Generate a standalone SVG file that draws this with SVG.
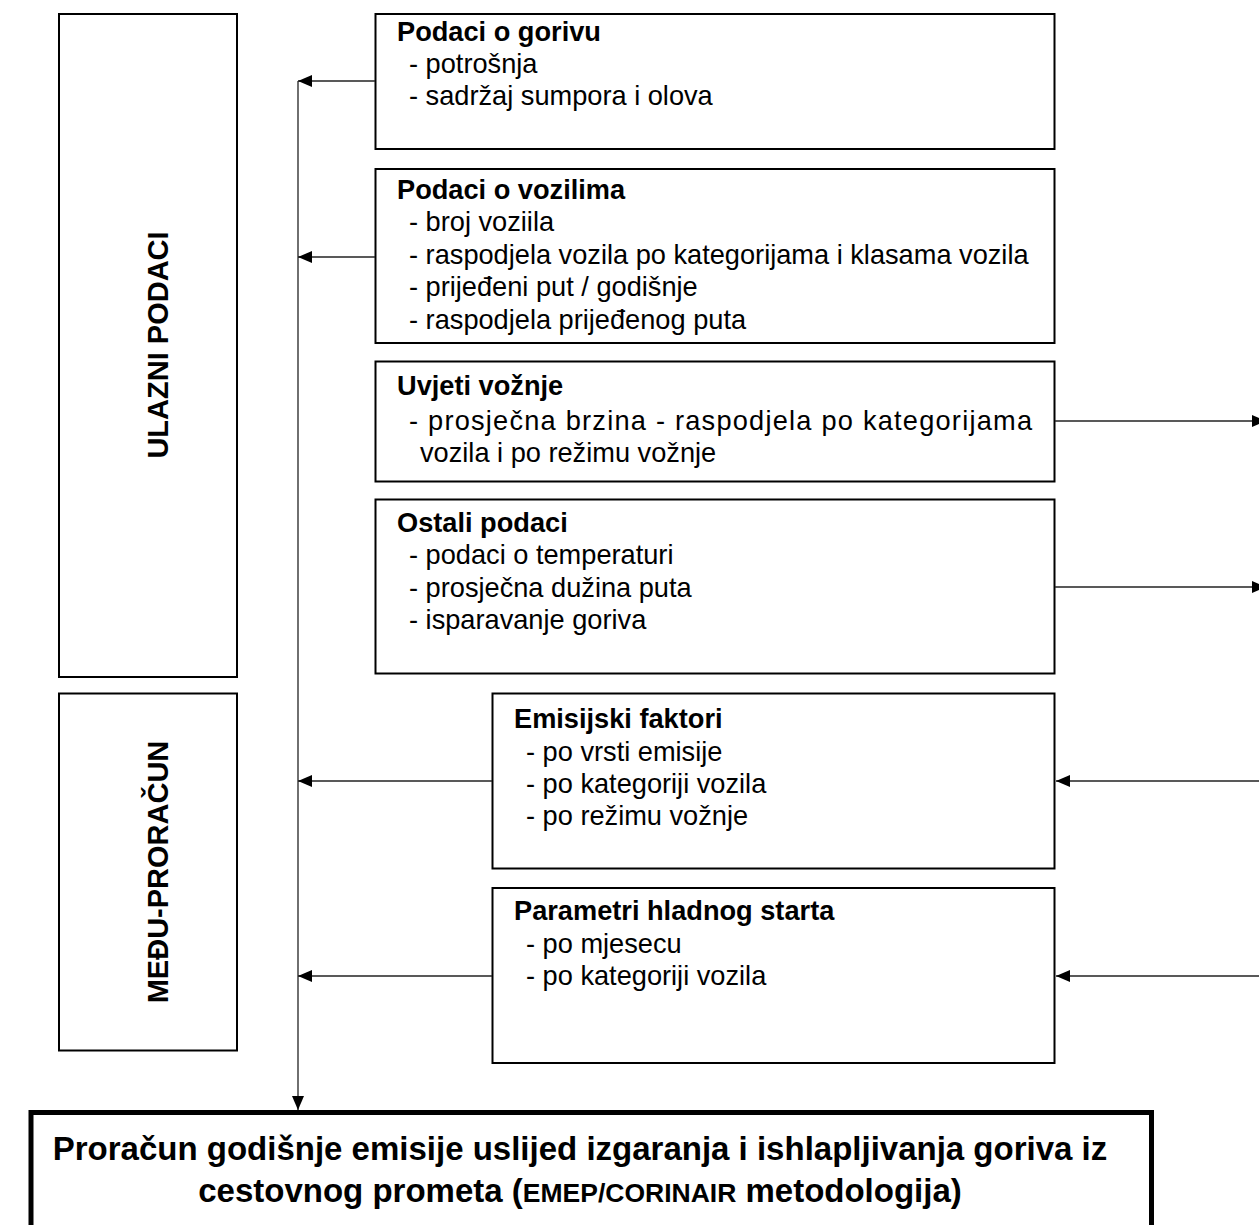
<svg xmlns="http://www.w3.org/2000/svg" width="1259" height="1225" viewBox="0 0 1259 1225">
<style>
.box{fill:#fff;stroke:#000;stroke-width:2}
.big{fill:#fff;stroke:#000;stroke-width:5}
.t{font-family:"Liberation Sans",Arial,sans-serif;font-size:27.2px;fill:#000}
.b{font-weight:bold}
.lbl{font-family:"Liberation Sans",Arial,sans-serif;font-size:29px;font-weight:bold;fill:#000;text-anchor:middle}
.main{font-family:"Liberation Sans",Arial,sans-serif;font-size:33px;font-weight:bold;fill:#000;text-anchor:middle}
.c{fill:none;stroke:#222;stroke-width:1.3}
</style>
<defs>
<marker id="arr" viewBox="0 0 14 12" refX="14" refY="6" markerWidth="14" markerHeight="12" orient="auto" markerUnits="userSpaceOnUse">
<path d="M0,0 L14,6 L0,12 z" fill="#000"/>
</marker>
</defs>

<g id="ulazni">
<rect class="box" x="59" y="14" width="178" height="663"/>
<text class="lbl" transform="translate(168,345) rotate(-90)">ULAZNI PODACI</text>
</g>
<g id="medju">
<rect class="box" x="59" y="693.5" width="178" height="357"/>
<text class="lbl" transform="translate(168,872) rotate(-90)">MEĐU-PRORAČUN</text>
</g>

<g id="gorivo">
<rect class="box" x="375.5" y="14" width="679" height="135"/>
<text class="t b" x="397" y="41">Podaci o gorivu</text>
<text class="t" x="409" y="73">- potrošnja</text>
<text class="t" x="409" y="105">- sadržaj sumpora i olova</text>
</g>

<g id="vozila">
<rect class="box" x="375.5" y="169" width="679" height="174"/>
<text class="t b" x="397" y="199">Podaci o vozilima</text>
<text class="t" x="409" y="231">- broj voziila</text>
<text class="t" x="409" y="263.5">- raspodjela vozila po kategorijama i klasama vozila</text>
<text class="t" x="409" y="296">- prijeđeni put / godišnje</text>
<text class="t" x="409" y="328.5">- raspodjela prijeđenog puta</text>
</g>

<g id="uvjeti">
<rect class="box" x="375.5" y="361.5" width="679" height="120"/>
<text class="t b" x="397" y="395">Uvjeti vožnje</text>
<text class="t" x="409" y="430" textLength="623" lengthAdjust="spacing">- prosječna brzina - raspodjela po kategorijama</text>
<text class="t" x="420" y="462">vozila i po režimu vožnje</text>
</g>

<g id="ostali">
<rect class="box" x="375.5" y="499.5" width="679" height="174"/>
<text class="t b" x="397" y="532">Ostali podaci</text>
<text class="t" x="409" y="564">- podaci o temperaturi</text>
<text class="t" x="409" y="597">- prosječna dužina puta</text>
<text class="t" x="409" y="629">- isparavanje goriva</text>
</g>

<g id="emisijski">
<rect class="box" x="492.5" y="693.5" width="562" height="175"/>
<text class="t b" x="514" y="728">Emisijski faktori</text>
<text class="t" x="526" y="760.5">- po vrsti emisije</text>
<text class="t" x="526" y="792.5">- po kategoriji vozila</text>
<text class="t" x="526" y="825">- po režimu vožnje</text>
</g>

<g id="hladni">
<rect class="box" x="492.5" y="888" width="562" height="175"/>
<text class="t b" x="514" y="920">Parametri hladnog starta</text>
<text class="t" x="526" y="952.5">- po mjesecu</text>
<text class="t" x="526" y="984.5">- po kategoriji vozila</text>
</g>

<g id="proracun">
<rect class="big" x="31" y="1112.5" width="1120.5" height="160"/>
<text class="main" x="580" y="1160">Proračun godišnje emisije uslijed izgaranja i ishlapljivanja goriva iz</text>
<text class="main" x="580" y="1202">cestovnog prometa (<tspan font-size="26.5px">EMEP/CORINAIR</tspan> metodologija)</text>
</g>

<g id="connectors">
<path class="c" d="M298,81 V1110" marker-end="url(#arr)"/>
<path class="c" d="M375,81 H298" marker-end="url(#arr)"/>
<path class="c" d="M375,257 H298" marker-end="url(#arr)"/>
<path class="c" d="M492,781 H298" marker-end="url(#arr)"/>
<path class="c" d="M492,976 H298" marker-end="url(#arr)"/>
<path class="c" d="M1055,421 H1266" marker-end="url(#arr)"/>
<path class="c" d="M1055,587 H1266" marker-end="url(#arr)"/>
<path class="c" d="M1270,781 H1056" marker-end="url(#arr)"/>
<path class="c" d="M1270,976 H1056" marker-end="url(#arr)"/>
</g>
</svg>
